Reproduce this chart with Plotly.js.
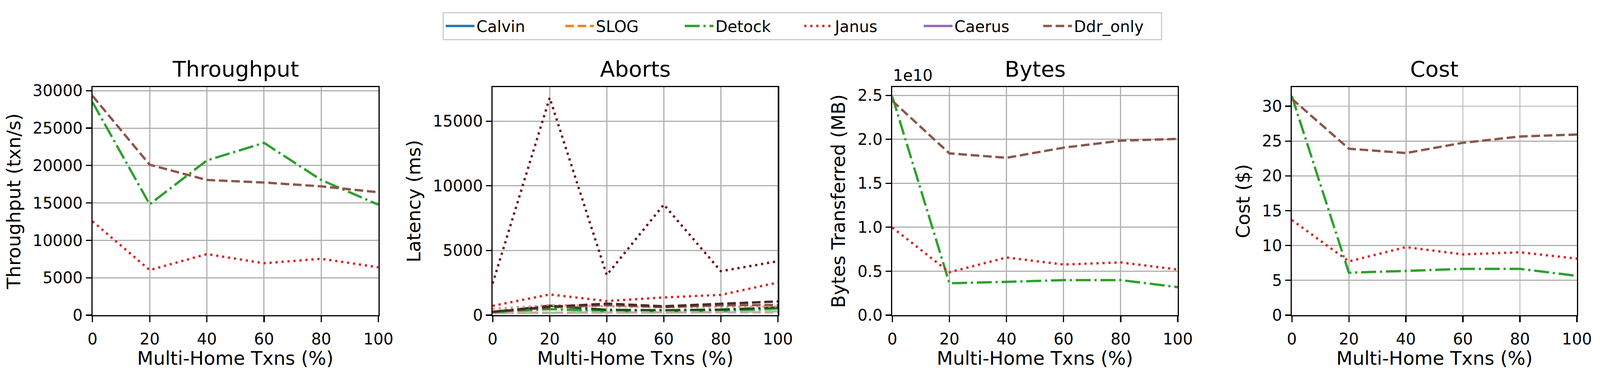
<!DOCTYPE html>
<html>
<head>
<meta charset="utf-8">
<script src="https://cdn.plot.ly/plotly-3.0.1.min.js"></script>
<style>
  html, body { margin: 0; padding: 0; background: #fff; overflow: hidden; }
  #chart { width: 100vw; height: 100vh; }
</style>
</head>
<body>
<div id="chart"></div>
<script>
// x values: share of multi-home transactions (%)
const pct = [0, 20, 40, 60, 80, 100]

// systems in legend order; Calvin, SLOG, Caerus have no points in this figure
const systems = ['Calvin', 'SLOG', 'Detock', 'Janus', 'Caerus', 'Ddr_only']
const noData = [null, null, null, null, null, null]

// Throughput (txn/s)
const throughputDetock = [28470, 14820, 20680, 23030, 18070, 14760]
const throughputJanus = [12550, 6030, 8160, 6940, 7540, 6400]
const throughputDdr = [29320, 20110, 18070, 17730, 17220, 16430]

// Aborts panel, latency (ms): three curves per system (dark / normal / light shade)
const abortsDetockDark = [250, 730, 410, 380, 430, 600]
const abortsDetockMid = [210, 470, 310, 300, 330, 520]
const abortsDetockLight = [160, 200, 200, 200, 240, 300]
const abortsJanusDark = [2450, 16800, 3100, 8550, 3400, 4170]
const abortsJanusMid = [720, 1600, 1090, 1370, 1570, 2520]
const abortsJanusLight = [480, 780, 690, 610, 650, 680]
const abortsDdrDark = [260, 650, 890, 690, 880, 1060]
const abortsDdrMid = [230, 600, 780, 620, 760, 790]
const abortsDdrLight = [190, 210, 200, 220, 230, 220]

// Bytes transferred (MB), in units of 1e10
const bytesDetock = [2.486, 0.363, 0.379, 0.399, 0.399, 0.319]
const bytesJanus = [0.997, 0.488, 0.656, 0.576, 0.600, 0.519]
const bytesDdr = [2.4375, 1.84, 1.79, 1.905, 1.984, 2.005]

// Cost ($)
const costDetock = [31.46, 6.10, 6.35, 6.65, 6.65, 5.65]
const costJanus = [13.67, 7.72, 9.77, 8.73, 9.03, 8.12]
const costDdr = [31.07, 23.9, 23.28, 24.75, 25.66, 25.94]

const panelTitles = ['Throughput', 'Aborts', 'Bytes', 'Cost']
const yTitles = ['Throughput (txn/s)', 'Latency (ms)', 'Bytes Transferred (MB)', 'Cost ($)']
const xTitle = 'Multi-Home Txns (%)'

// the figure was designed at 4449 x 973; the window may be narrower, so
// horizontal sizes follow the width, vertical ones the height
const W = window.innerWidth
const H = window.innerHeight
const SX = W / 4449
const SY = H / 973
const SF = Math.sqrt(SX * SY)
const fx = v => v * SX
const fy = v => v * SY
const ff = v => v * SF

const FONT = 'DejaVu Sans, sans-serif'
const LW = ff(6.2)
const DASH = {
  solid: 'solid',
  dashed: ff(23) + 'px,' + ff(10) + 'px',
  dotted: ff(6) + 'px,' + ff(10) + 'px',
  dashdot: ff(40) + 'px,' + ff(10) + 'px,' + ff(6) + 'px,' + ff(10) + 'px'
}
const COLORS = {
  Calvin: '#1f77b4',
  SLOG: '#ff7f0e',
  Detock: '#2ca02c',
  Janus: '#d62728',
  Caerus: '#9467bd',
  Ddr_only: '#8c564b'
}
const STYLES = {
  Calvin: DASH.solid,
  SLOG: DASH.dashed,
  Detock: DASH.dashdot,
  Janus: DASH.dotted,
  Caerus: DASH.solid,
  Ddr_only: DASH.dashed
}

function hexToRgb (hex) {
  const n = parseInt(hex.slice(1), 16)
  return [(n >> 16) & 255, (n >> 8) & 255, n & 255]
}
function darker (hex) {
  const c = hexToRgb(hex).map(v => Math.round(v * 0.5))
  return 'rgb(' + c.join(',') + ')'
}
function lighter (hex) {
  const c = hexToRgb(hex).map(v => Math.round(v + (255 - v) * 0.5))
  return 'rgb(' + c.join(',') + ')'
}

function line (name, y, axis, color, dash, showlegend) {
  return {
    x: pct,
    y: y,
    xaxis: 'x' + (axis === 1 ? '' : axis),
    yaxis: 'y' + (axis === 1 ? '' : axis),
    name: name,
    legendgroup: name,
    showlegend: showlegend,
    mode: 'lines',
    type: 'scatter',
    line: { color: color, width: LW, dash: dash },
    hoverinfo: 'skip'
  }
}

const traces = []

// panel 1 carries the legend entries
const throughputBySystem = {
  Calvin: noData, SLOG: noData, Detock: throughputDetock, Janus: throughputJanus, Caerus: noData, Ddr_only: throughputDdr
}
systems.forEach(s => traces.push(line(s, throughputBySystem[s], 1, COLORS[s], STYLES[s], true)))

// panel 2: aborts
const abortSets = [
  ['Detock', abortsDetockLight, abortsDetockMid, abortsDetockDark],
  ['Janus', abortsJanusLight, abortsJanusMid, abortsJanusDark],
  ['Ddr_only', abortsDdrLight, abortsDdrMid, abortsDdrDark]
]
abortSets.forEach(([s, light, mid, dark]) => {
  traces.push(line(s, light, 2, lighter(COLORS[s]), STYLES[s], false))
  traces.push(line(s, mid, 2, COLORS[s], STYLES[s], false))
  traces.push(line(s, dark, 2, darker(COLORS[s]), STYLES[s], false))
})

// panel 3: bytes
traces.push(line('Detock', bytesDetock, 3, COLORS.Detock, STYLES.Detock, false))
traces.push(line('Janus', bytesJanus, 3, COLORS.Janus, STYLES.Janus, false))
traces.push(line('Ddr_only', bytesDdr, 3, COLORS.Ddr_only, STYLES.Ddr_only, false))

// panel 4: cost
traces.push(line('Detock', costDetock, 4, COLORS.Detock, STYLES.Detock, false))
traces.push(line('Janus', costJanus, 4, COLORS.Janus, STYLES.Janus, false))
traces.push(line('Ddr_only', costDdr, 4, COLORS.Ddr_only, STYLES.Ddr_only, false))

// axes boxes, in paper fractions of the figure
const xDomains = [[0.0578, 0.2365], [0.3079, 0.4862], [0.5577, 0.7361], [0.8074, 0.9856]]
const yDomain = [1 - 807 / 973, 1 - 223 / 973]
const yRanges = [[0, 30485], [0, 17630], [0, 2.594], [0, 32.75]]
const yTicks = [
  [0, 5000, 10000, 15000, 20000, 25000, 30000],
  [0, 5000, 10000, 15000],
  [0, 0.5, 1.0, 1.5, 2.0, 2.5],
  [0, 5, 10, 15, 20, 25, 30]
]
const yFormats = ['d', 'd', '.1f', 'd']

function axisBase () {
  return {
    showline: true,
    mirror: true,
    linecolor: '#000',
    linewidth: ff(3.3),
    ticks: 'outside',
    tickwidth: ff(3.3),
    tickcolor: '#000',
    showgrid: true,
    gridcolor: '#b0b0b0',
    gridwidth: ff(3),
    zeroline: false,
    tickfont: { family: FONT, size: ff(42), color: '#000' }
  }
}

const layout = {
  width: W,
  height: H,
  margin: { l: 0, r: 0, t: 0, b: 0 },
  paper_bgcolor: '#fff',
  plot_bgcolor: '#fff',
  font: { family: FONT, color: '#000' },
  showlegend: true,
  legend: {
    orientation: 'h',
    x: 0.5015,
    xanchor: 'center',
    y: 1 - 67 / 973,
    yanchor: 'middle',
    bordercolor: '#cccccc',
    borderwidth: ff(3),
    font: { family: FONT, size: ff(42), color: '#000' },
    itemwidth: fx(80),
    entrywidth: fx(236),
    entrywidthmode: 'pixels',
    traceorder: 'normal'
  },
  annotations: []
}

for (let i = 0; i < 4; i++) {
  const n = i + 1
  const xa = axisBase()
  Object.assign(xa, {
    domain: xDomains[i],
    range: [0, 100],
    tickvals: pct,
    ticklen: fy(15),
    ticklabelstandoff: fy(8),
    anchor: 'y' + (n === 1 ? '' : n)
  })
  const ya = axisBase()
  Object.assign(ya, {
    domain: yDomain,
    range: yRanges[i],
    tickvals: yTicks[i],
    tickformat: yFormats[i],
    ticklen: fx(15),
    ticklabelstandoff: fx(6),
    anchor: 'x' + (n === 1 ? '' : n),
    title: { text: yTitles[i], font: { family: FONT, size: ff(50), color: '#000' }, standoff: fx(18) }
  })
  layout['xaxis' + (n === 1 ? '' : n)] = xa
  layout['yaxis' + (n === 1 ? '' : n)] = ya
  const mid = (xDomains[i][0] + xDomains[i][1]) / 2
  layout.annotations.push({
    text: panelTitles[i],
    xref: 'paper',
    yref: 'paper',
    x: mid,
    y: yDomain[1],
    xanchor: 'center',
    yanchor: 'bottom',
    yshift: fy(12),
    showarrow: false,
    font: { family: FONT, size: ff(58), color: '#000' }
  })
  // x axis title
  layout.annotations.push({
    text: xTitle,
    xref: 'paper',
    yref: 'paper',
    x: mid,
    y: yDomain[0],
    xanchor: 'center',
    yanchor: 'middle',
    yshift: -fy(110),
    showarrow: false,
    font: { family: FONT, size: ff(50), color: '#000' }
  })
}

// scale factor shown above the bytes axis
layout.annotations.push({
  text: '1e10',
  xref: 'paper',
  yref: 'paper',
  x: xDomains[2][0],
  y: yDomain[1],
  xanchor: 'left',
  yanchor: 'bottom',
  yshift: fy(4),
  showarrow: false,
  font: { family: FONT, size: ff(42), color: '#000' }
})

Plotly.newPlot('chart', traces, layout, { displayModeBar: false, staticPlot: true })
</script>
</body>
</html>
